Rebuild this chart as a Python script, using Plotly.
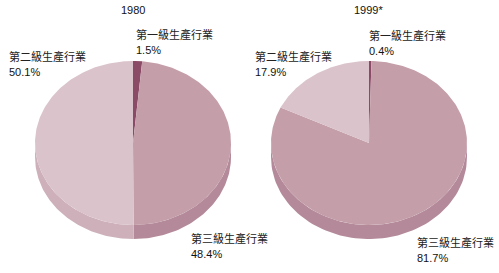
import numpy as np
import plotly.graph_objects as go

# ---- data ----
sectors = ["第一級生產行業", "第三級生產行業", "第二級生產行業"]  # clockwise from 12 o'clock
years = ["1980", "1999*"]
values_1980 = [1.5, 48.4, 50.1]
values_1999 = [0.4, 81.7, 17.9]
labels_1980 = ["1.5%", "48.4%", "50.1%"]
labels_1999 = ["0.4%", "81.7%", "17.9%"]

# ---- style ----
top_colors = ["#8b4a66", "#c49ea9", "#dac3ca"]
side_colors = ["#7a3d57", "#b48a9a", "#cdb0ba"]
W, H = 499, 273
RX, RY, DEPTH = 98, 82, 14
CY = 143
centers = [133, 369]
FONT = "Liberation Sans, Arial, Noto Sans CJK TC, sans-serif"

fig = go.Figure()


def pt(cx, cy, th):
    return cx + RX * np.sin(th), cy - RY * np.cos(th)


def add_pie(cx, values):
    total = sum(values)
    bounds = np.concatenate([[0], np.cumsum(values)]) / total * 2 * np.pi
    # sides (front half: pi/2 .. 3pi/2)
    for i in range(len(values)):
        a, b = max(bounds[i], np.pi / 2), min(bounds[i + 1], 3 * np.pi / 2)
        if b <= a:
            continue
        th = np.linspace(a, b, 80)
        x, y = pt(cx, CY, th)
        xs = np.concatenate([x, x[::-1]])
        ys = np.concatenate([y, (y + DEPTH)[::-1]])
        fig.add_trace(go.Scatter(x=xs, y=ys, fill="toself", mode="lines",
                                 line=dict(width=0), fillcolor=side_colors[i],
                                 hoverinfo="skip", showlegend=False))
    # top faces
    for i in range(len(values)):
        n = max(4, int((bounds[i + 1] - bounds[i]) / (2 * np.pi) * 360))
        th = np.linspace(bounds[i], bounds[i + 1], n)
        x, y = pt(cx, CY, th)
        xs = np.concatenate([[cx], x, [cx]])
        ys = np.concatenate([[CY], y, [CY]])
        fig.add_trace(go.Scatter(x=xs, y=ys, fill="toself", mode="lines",
                                 line=dict(width=0), fillcolor=top_colors[i],
                                 hoverinfo="skip", showlegend=False,
                                 name=sectors[i]))


add_pie(centers[0], values_1980)
add_pie(centers[1], values_1999)

# label positions (name line y, percent line y)
label_pos = [
    [(134, 34), (189, 238), (7, 56)],
    [(367, 35), (415, 242), (253, 56)],
]
pct_labels = [labels_1980, labels_1999]
for k in range(2):
    fig.add_annotation(x=centers[k] + (0 if k == 0 else -1), y=10, text=years[k],
                       showarrow=False, xanchor="center", yanchor="middle",
                       font=dict(family=FONT, size=11, color="#111"))
    for i in range(3):
        x0, y0 = label_pos[k][i]
        fig.add_annotation(x=x0, y=y0, text=sectors[i], showarrow=False,
                           xanchor="left", yanchor="middle",
                           font=dict(family=FONT, size=11, color="#222"))
        fig.add_annotation(x=x0, y=y0 + 16, text=pct_labels[k][i], showarrow=False,
                           xanchor="left", yanchor="middle",
                           font=dict(family=FONT, size=11, color="#111"))

fig.update_layout(
    width=W, height=H,
    margin=dict(l=0, r=0, t=0, b=0),
    paper_bgcolor="white", plot_bgcolor="white",
    xaxis=dict(range=[0, W], visible=False, fixedrange=True),
    yaxis=dict(range=[H, 0], visible=False, fixedrange=True),
    showlegend=False,
)

fig.write_html("out.html")
